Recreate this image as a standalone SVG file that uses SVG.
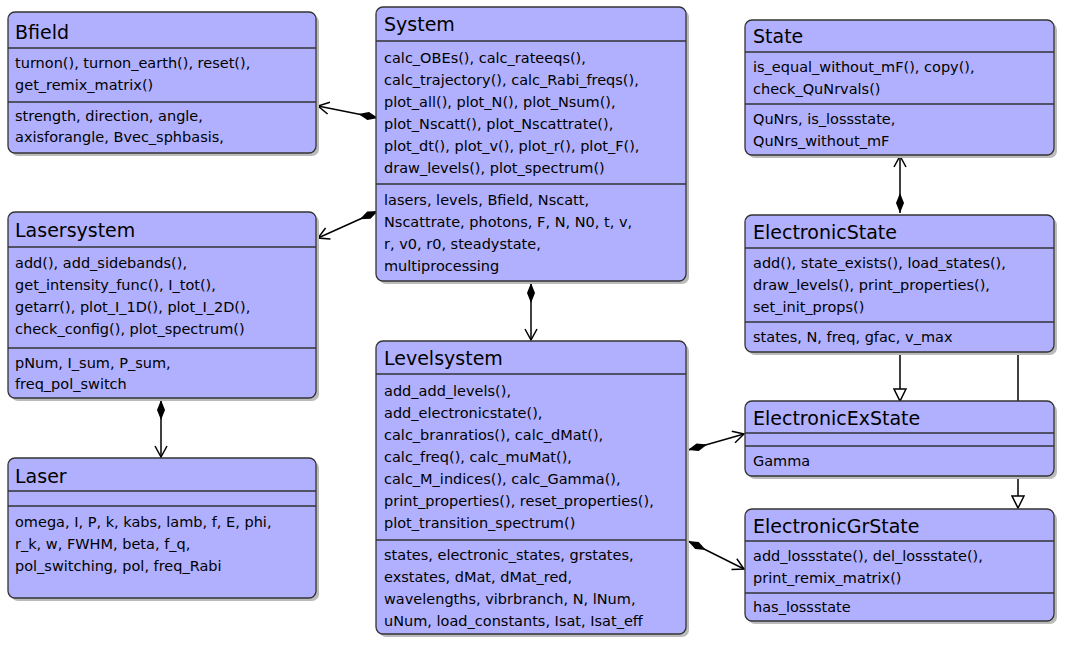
<svg xmlns="http://www.w3.org/2000/svg" width="1067" height="645" viewBox="0 0 1067 645">
<style>
.b{fill:#b0b0ff;stroke:#333;stroke-width:1.3}
.s{fill:#bbb}
.l{stroke:#333;stroke-width:1.3}
.t{font-family:"DejaVu Sans",sans-serif;font-size:19px;fill:#000}
.x{font-family:"DejaVu Sans",sans-serif;font-size:14.5px;fill:#000}
.c{stroke:#000;stroke-width:1.5;fill:none}
</style>
<defs>
<marker id="d" markerWidth="22" markerHeight="10" refX="1" refY="5" orient="auto" markerUnits="userSpaceOnUse"><path d="M1,5 L11,1 L21,5 L11,9Z" fill="#000"/></marker>
<marker id="a" markerWidth="14" markerHeight="14" refX="12" refY="7" orient="auto" markerUnits="userSpaceOnUse"><path d="M1,1 L12,7 L1,13" fill="none" stroke="#000" stroke-width="1.5"/></marker>
<marker id="h" markerWidth="16" markerHeight="14" refX="13" refY="7" orient="auto" markerUnits="userSpaceOnUse"><path d="M1,1 L13,7 L1,13Z" fill="#fff" stroke="#000" stroke-width="1.5"/></marker>
</defs>
<g id="connectors">
<path class="c" d="M378,118 L318,106" marker-start="url(#d)" marker-end="url(#a)"/>
<path class="c" d="M378,211 L318,238" marker-start="url(#d)" marker-end="url(#a)"/>
<path class="c" d="M531,283 L531,340" marker-start="url(#d)" marker-end="url(#a)"/>
<path class="c" d="M161,400 L161,457" marker-start="url(#d)" marker-end="url(#a)"/>
<path class="c" d="M900,213 L900,156" marker-start="url(#d)" marker-end="url(#a)"/>
<path class="c" d="M900,353 L900,401" marker-end="url(#h)"/>
<path class="c" d="M1018,353 L1018,508" marker-end="url(#h)"/>
<path class="c" d="M688,450 L744,434" marker-start="url(#d)" marker-end="url(#a)"/>
<path class="c" d="M688,541 L744,569" marker-start="url(#d)" marker-end="url(#a)"/>
</g>
<g id="Bfield">
<rect class="s" x="11" y="15" width="308" height="141" rx="7"/>
<rect class="b" x="8" y="12" width="308" height="141" rx="7"/>
<line class="l" x1="8" y1="48" x2="316" y2="48"/><line class="l" x1="8" y1="102" x2="316" y2="102"/>
<text class="t" x="15" y="39">Bfield</text>
<text class="x" x="15" y="68">turnon(), turnon_earth(), reset(),</text>
<text class="x" x="15" y="90">get_remix_matrix()</text>
<text class="x" x="15" y="121">strength, direction, angle,</text>
<text class="x" x="15" y="142">axisforangle, Bvec_sphbasis,</text>
</g>
<g id="System">
<rect class="s" x="379" y="10" width="310" height="274" rx="7"/>
<rect class="b" x="376" y="7" width="310" height="274" rx="7"/>
<line class="l" x1="376" y1="41" x2="686" y2="41"/><line class="l" x1="376" y1="184" x2="686" y2="184"/>
<text class="t" x="384" y="31">System</text>
<text class="x" x="384" y="63">calc_OBEs(), calc_rateeqs(),</text>
<text class="x" x="384" y="85">calc_trajectory(), calc_Rabi_freqs(),</text>
<text class="x" x="384" y="107">plot_all(), plot_N(), plot_Nsum(),</text>
<text class="x" x="384" y="129">plot_Nscatt(), plot_Nscattrate(),</text>
<text class="x" x="384" y="151">plot_dt(), plot_v(), plot_r(), plot_F(),</text>
<text class="x" x="384" y="173">draw_levels(), plot_spectrum()</text>
<text class="x" x="384" y="205">lasers, levels, Bfield, Nscatt,</text>
<text class="x" x="384" y="227">Nscattrate, photons, F, N, N0, t, v,</text>
<text class="x" x="384" y="249">r, v0, r0, steadystate,</text>
<text class="x" x="384" y="271">multiprocessing</text>
</g>
<g id="State">
<rect class="s" x="748" y="23" width="309" height="135" rx="7"/>
<rect class="b" x="745" y="20" width="309" height="135" rx="7"/>
<line class="l" x1="745" y1="52" x2="1054" y2="52"/><line class="l" x1="745" y1="104" x2="1054" y2="104"/>
<text class="t" x="753" y="43">State</text>
<text class="x" x="753" y="72">is_equal_without_mF(), copy(),</text>
<text class="x" x="753" y="94">check_QuNrvals()</text>
<text class="x" x="753" y="124">QuNrs, is_lossstate,</text>
<text class="x" x="753" y="146">QuNrs_without_mF</text>
</g>
<g id="Lasersystem">
<rect class="s" x="11" y="215" width="308" height="186" rx="7"/>
<rect class="b" x="8" y="212" width="308" height="186" rx="7"/>
<line class="l" x1="8" y1="247" x2="316" y2="247"/><line class="l" x1="8" y1="348" x2="316" y2="348"/>
<text class="t" x="15" y="237">Lasersystem</text>
<text class="x" x="15" y="268">add(), add_sidebands(),</text>
<text class="x" x="15" y="290">get_intensity_func(), I_tot(),</text>
<text class="x" x="15" y="312">getarr(), plot_I_1D(), plot_I_2D(),</text>
<text class="x" x="15" y="334">check_config(), plot_spectrum()</text>
<text class="x" x="15" y="368">pNum, I_sum, P_sum,</text>
<text class="x" x="15" y="389">freq_pol_switch</text>
</g>
<g id="Laser">
<rect class="s" x="11" y="461" width="308" height="140" rx="7"/>
<rect class="b" x="8" y="458" width="308" height="140" rx="7"/>
<line class="l" x1="8" y1="491" x2="316" y2="491"/><line class="l" x1="8" y1="506" x2="316" y2="506"/>
<text class="t" x="15" y="483">Laser</text>
<text class="x" x="15" y="527">omega, I, P, k, kabs, lamb, f, E, phi,</text>
<text class="x" x="15" y="549">r_k, w, FWHM, beta, f_q,</text>
<text class="x" x="15" y="571">pol_switching, pol, freq_Rabi</text>
</g>
<g id="Levelsystem">
<rect class="s" x="379" y="344" width="310" height="293" rx="7"/>
<rect class="b" x="376" y="341" width="310" height="293" rx="7"/>
<line class="l" x1="376" y1="374" x2="686" y2="374"/><line class="l" x1="376" y1="540" x2="686" y2="540"/>
<text class="t" x="384" y="365">Levelsystem</text>
<text class="x" x="384" y="396">add_add_levels(),</text>
<text class="x" x="384" y="418">add_electronicstate(),</text>
<text class="x" x="384" y="440">calc_branratios(), calc_dMat(),</text>
<text class="x" x="384" y="462">calc_freq(), calc_muMat(),</text>
<text class="x" x="384" y="484">calc_M_indices(), calc_Gamma(),</text>
<text class="x" x="384" y="506">print_properties(), reset_properties(),</text>
<text class="x" x="384" y="528">plot_transition_spectrum()</text>
<text class="x" x="384" y="560">states, electronic_states, grstates,</text>
<text class="x" x="384" y="582">exstates, dMat, dMat_red,</text>
<text class="x" x="384" y="604">wavelengths, vibrbranch, N, lNum,</text>
<text class="x" x="384" y="626">uNum, load_constants, Isat, Isat_eff</text>
</g>
<g id="ElectronicState">
<rect class="s" x="748" y="218" width="309" height="137" rx="7"/>
<rect class="b" x="745" y="215" width="309" height="137" rx="7"/>
<line class="l" x1="745" y1="248" x2="1054" y2="248"/><line class="l" x1="745" y1="322" x2="1054" y2="322"/>
<text class="t" x="753" y="239">ElectronicState</text>
<text class="x" x="753" y="268">add(), state_exists(), load_states(),</text>
<text class="x" x="753" y="290">draw_levels(), print_properties(),</text>
<text class="x" x="753" y="312">set_init_props()</text>
<text class="x" x="753" y="342">states, N, freq, gfac, v_max</text>
</g>
<g id="ElectronicExState">
<rect class="s" x="748" y="404" width="309" height="75" rx="7"/>
<rect class="b" x="745" y="401" width="309" height="75" rx="7"/>
<line class="l" x1="745" y1="433" x2="1054" y2="433"/><line class="l" x1="745" y1="446" x2="1054" y2="446"/>
<text class="t" x="753" y="425">ElectronicExState</text>
<text class="x" x="753" y="466">Gamma</text>
</g>
<g id="ElectronicGrState">
<rect class="s" x="748" y="512" width="309" height="112" rx="7"/>
<rect class="b" x="745" y="509" width="309" height="112" rx="7"/>
<line class="l" x1="745" y1="541" x2="1054" y2="541"/><line class="l" x1="745" y1="593" x2="1054" y2="593"/>
<text class="t" x="753" y="533">ElectronicGrState</text>
<text class="x" x="753" y="561">add_lossstate(), del_lossstate(),</text>
<text class="x" x="753" y="583">print_remix_matrix()</text>
<text class="x" x="753" y="612">has_lossstate</text>
</g>
</svg>
